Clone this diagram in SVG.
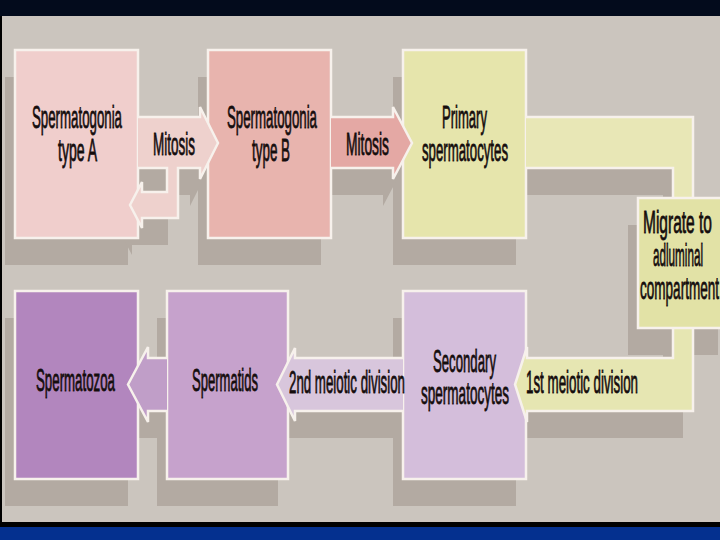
<svg xmlns="http://www.w3.org/2000/svg" width="720" height="540" viewBox="0 0 720 540">
<style>
.box{stroke:#f7f1ec;stroke-width:2.5}
.edge{fill:none;stroke:#f7f1ec;stroke-width:2.5;stroke-linejoin:miter}
.sh{fill:#b3aaa2}
text{font-family:"Liberation Sans",Arial,sans-serif;font-size:13.5px;fill:#150d0d;stroke:#150d0d;stroke-width:0.35}
</style>
<rect x="0" y="0" width="720" height="540" fill="#000000"/>
<rect x="0" y="0" width="720" height="16" fill="#030b1c"/>
<rect x="2" y="16" width="718" height="506" fill="#cbc5be"/>
<rect x="0" y="527" width="720" height="13" fill="#04308f"/>

<g id="shadows" transform="translate(-10,27)">
<rect class="sh" x="15" y="50" width="123" height="188"/>
<rect class="sh" x="208" y="50" width="123" height="188"/>
<rect class="sh" x="403" y="50" width="123" height="188"/>
<rect class="sh" x="638" y="198" width="90" height="130"/>
<rect class="sh" x="403" y="291" width="123" height="188"/>
<rect class="sh" x="167" y="291" width="121" height="188"/>
<rect class="sh" x="15" y="291" width="123" height="188"/>
<polygon class="sh" points="138,117 200,117 200,107 218,143 200,179 200,168 178,168 178,218 142,218 142,228 130,205 142,182 142,192 167,192 167,168 138,168"/>
<polygon class="sh" points="331,117 393,117 393,107 412,143 393,179 393,168 331,168"/>
<polygon class="sh" points="526,117 693,117 693,198 673,198 673,168 526,168"/>
<polygon class="sh" points="673,328 693,328 693,411 527,411 527,422 515,384.5 527,347 527,358 673,358"/>
<polygon class="sh" points="403,358 295,358 295,348 277,384.5 295,421 295,411 403,411"/>
<polygon class="sh" points="167,358 148,358 148,347 128,384.5 148,422 148,411 167,411"/>
</g>

<g id="node-type-a">
<rect class="box" x="15" y="50" width="123" height="188" fill="#f0cecc"/>
<text transform="translate(32,128) scale(1,2.3)" textLength="90" lengthAdjust="spacingAndGlyphs">Spermatogonia</text>
<text transform="translate(58,161) scale(1,2.3)" textLength="39" lengthAdjust="spacingAndGlyphs">type A</text>
</g>
<g id="node-type-b">
<rect class="box" x="208" y="50" width="123" height="188" fill="#e8b4ae"/>
<text transform="translate(227,128) scale(1,2.3)" textLength="90" lengthAdjust="spacingAndGlyphs">Spermatogonia</text>
<text transform="translate(252,161) scale(1,2.3)" textLength="38" lengthAdjust="spacingAndGlyphs">type B</text>
</g>
<g id="node-primary">
<rect class="box" x="403" y="50" width="123" height="188" fill="#e6e5ac"/>
<text transform="translate(442,128) scale(1,2.3)" textLength="45" lengthAdjust="spacingAndGlyphs">Primary</text>
<text transform="translate(422,161) scale(1,2.3)" textLength="86" lengthAdjust="spacingAndGlyphs">spermatocytes</text>
</g>
<g id="node-secondary">
<rect class="box" x="403" y="291" width="123" height="188" fill="#d4bedb"/>
<text transform="translate(433,372) scale(1,2.3)" textLength="63" lengthAdjust="spacingAndGlyphs">Secondary</text>
<text transform="translate(421,404) scale(1,2.3)" textLength="88" lengthAdjust="spacingAndGlyphs">spermatocytes</text>
</g>
<g id="node-spermatids">
<rect class="box" x="167" y="291" width="121" height="188" fill="#c6a2cc"/>
<text transform="translate(192,391) scale(1,2.3)" textLength="66" lengthAdjust="spacingAndGlyphs">Spermatids</text>
</g>
<g id="node-spermatozoa">
<rect class="box" x="15" y="291" width="123" height="188" fill="#b286be"/>
<text transform="translate(36,391) scale(1,2.3)" textLength="79" lengthAdjust="spacingAndGlyphs">Spermatozoa</text>
</g>

<g id="connectors">
<g id="mitosis-1">
<polygon fill="#eed1cd" points="138,117 200,117 200,107 218,143 200,179 200,168 178,168 178,218 142,218 142,228 130,205 142,182 142,192 167,192 167,168 138,168"/>
<path class="edge" d="M138,117 L200,117 L200,107 L218,143 L200,179 L200,168 L178,168 L178,218 L142,218 L142,228 L130,205 L142,182 L142,192 L167,192 L167,168 L138,168"/>
<text transform="translate(153,155) scale(1,2.3)" textLength="42" lengthAdjust="spacingAndGlyphs">Mitosis</text>
</g>
<g id="mitosis-2">
<polygon fill="#e4a8a4" points="331,117 393,117 393,107 412,143 393,179 393,168 331,168"/>
<path class="edge" d="M331,117 L393,117 L393,107 L412,143 L393,179 L393,168 L331,168"/>
<text transform="translate(346,155) scale(1,2.3)" textLength="43" lengthAdjust="spacingAndGlyphs">Mitosis</text>
</g>
<g id="to-migrate">
<polygon fill="#e8e7b6" points="526,117 693,117 693,198 673,198 673,168 526,168"/>
<path class="edge" d="M526,117 L693,117 L693,198 M673,198 L673,168 L526,168"/>
</g>
<g id="first-meiotic">
<polygon fill="#e6e6b2" points="673,328 693,328 693,411 527,411 527,422 515,384.5 527,347 527,358 673,358"/>
<path class="edge" d="M693,328 L693,411 L527,411 L527,422 L515,384.5 L527,347 L527,358 L673,358 L673,328"/>
<text transform="translate(526,393) scale(1,2.3)" textLength="112" lengthAdjust="spacingAndGlyphs">1st meiotic division</text>
</g>
<g id="second-meiotic">
<polygon fill="#d8c6dc" points="403,358 295,358 295,348 277,384.5 295,421 295,411 403,411"/>
<path class="edge" d="M403,358 L295,358 L295,348 L277,384.5 L295,421 L295,411 L403,411"/>
<text transform="translate(289,393) scale(1,2.3)" textLength="116" lengthAdjust="spacingAndGlyphs">2nd meiotic division</text>
</g>
<g id="to-spermatozoa">
<polygon fill="#c09ec8" points="167,358 148,358 148,347 128,384.5 148,422 148,411 167,411"/>
<path class="edge" d="M167,358 L148,358 L148,347 L128,384.5 L148,422 L148,411 L167,411"/>
</g>
</g>

<g id="node-migrate">
<rect class="box" x="638" y="198" width="90" height="130" fill="#e2e2a6"/>
<text transform="translate(643,233) scale(1,2.3)" textLength="69" lengthAdjust="spacingAndGlyphs">Migrate to</text>
<text transform="translate(653,266) scale(1,2.3)" textLength="50" lengthAdjust="spacingAndGlyphs">adluminal</text>
<text transform="translate(640,299) scale(1,2.3)" textLength="79" lengthAdjust="spacingAndGlyphs">compartment</text>
</g>
</svg>
